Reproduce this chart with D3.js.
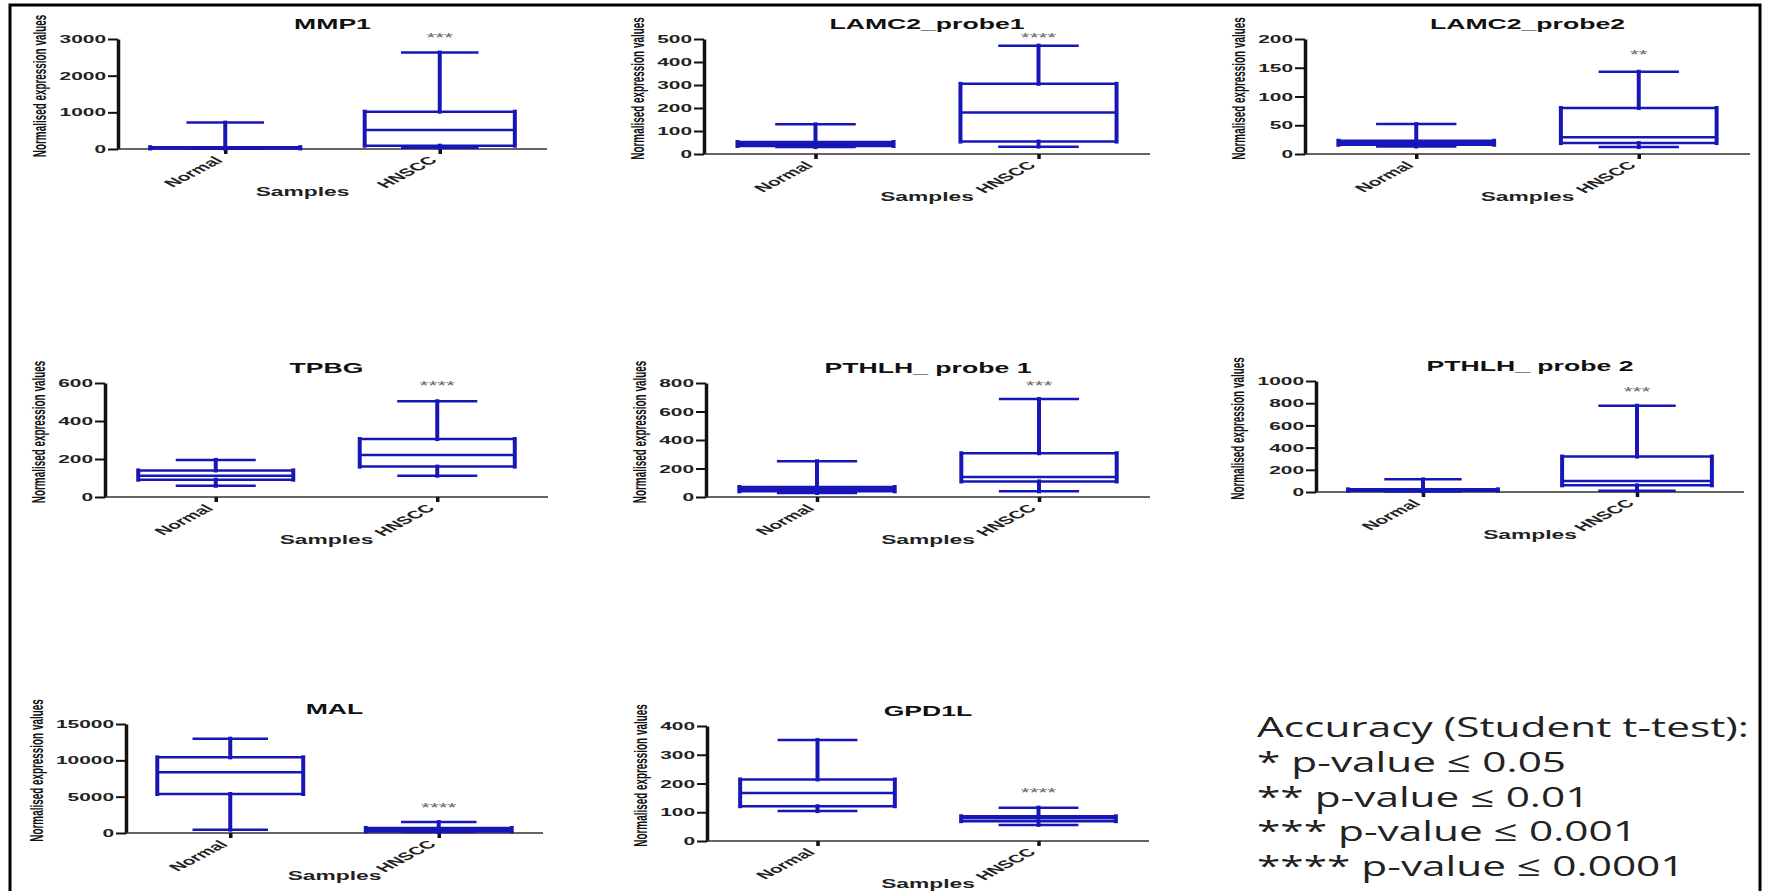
<!DOCTYPE html>
<html>
<head>
<meta charset="utf-8">
<script src="https://cdn.jsdelivr.net/npm/d3@7"></script>
<style>
  html, body { margin: 0; padding: 0; background: #fff; }
  svg { display: block; font-family: "Liberation Sans", Arial, sans-serif; }
</style>
</head>
<body>
<svg id="chart" width="1765" height="891"></svg>
<script>
// panel titles and the two sample groups
const genes = ["MMP1", "LAMC2_probe1", "LAMC2_probe2", "TPBG", "PTHLH_ probe 1", "PTHLH_ probe 2", "MAL", "GPD1L"];
const groups = ["Normal", "HNSCC"];

// y axis extent and tick step per panel
const yMax = [3000, 500, 200, 600, 800, 1000, 15000, 400];
const yStep = [1000, 100, 50, 200, 200, 200, 5000, 100];

// box stats: [min, q1, median, q3, max]
const normalStats = [
  [5, 15, 30, 50, 720],
  [30, 35, 42, 52, 129],
  [13, 16, 19, 23, 52],
  [59, 91, 112, 140, 195],
  [28, 40, 58, 70, 251],
  [5, 12, 18, 24, 114],
  [460, 5370, 8350, 10410, 12980],
  [104, 121, 167, 214, 351],
];
const hnsccStats = [
  [36, 91, 518, 1018, 2630],
  [32, 54, 180, 305, 471],
  [12, 19, 29, 80, 143],
  [112, 160, 221, 305, 504],
  [40, 109, 140, 307, 688],
  [12, 60, 99, 319, 777],
  [130, 220, 450, 690, 1500],
  [56, 69, 79, 86, 116],
];

// significance marks and the value they sit at
const stars = ["***", "****", "**", "****", "***", "***", "****", "****"];
const starLevel = [3110, 519, 178, 598, 798, 928, 3900, 179];

const legendLines = [
  "Accuracy (Student t-test):",
  "* p-value \u2264 0.05",
  "** p-value \u2264 0.01",
  "*** p-value \u2264 0.001",
  "**** p-value \u2264 0.0001",
];

// where each panel's axes sit on the page
const frames = [
  { x0: 118, x1: 547, top: 39, zero: 149, samplesDx: -30 },
  { x0: 704, x1: 1150, top: 39, zero: 154, samplesDx: 0 },
  { x0: 1305, x1: 1750, top: 39, zero: 154, samplesDx: 0 },
  { x0: 105, x1: 548, top: 383, zero: 497, samplesDx: 0 },
  { x0: 706, x1: 1150, top: 383, zero: 497, samplesDx: 0 },
  { x0: 1316, x1: 1744, top: 381, zero: 492, samplesDx: 0 },
  { x0: 126, x1: 543, top: 724, zero: 833, samplesDx: 0 },
  { x0: 707, x1: 1149, top: 726, zero: 841, samplesDx: 0 },
];

const blue = "#1717b8";
const sx = 1.9; // the original figure is stretched sideways

const svg = d3.select("#chart");

svg.append("rect")
  .attr("x", 10).attr("y", 5)
  .attr("width", 1750).attr("height", 900)
  .attr("fill", "none").attr("stroke", "#000").attr("stroke-width", 3);

genes.forEach((gene, i) => {
  const f = frames[i];
  const g = svg.append("g");

  const y = d3.scaleLinear().domain([0, yMax[i]]).range([f.zero, f.top]);
  const x = d3.scalePoint().domain(groups).range([f.x0, f.x1]).padding(0.5);
  const step = x.step();
  const boxW = step * 0.7;
  const capW = step * 0.35;

  // y axis
  const yAxis = g.append("g")
    .attr("transform", `translate(${f.x0},0)`)
    .call(d3.axisLeft(y)
      .tickValues(d3.range(0, yMax[i] + 1, yStep[i]))
      .tickFormat(d3.format("d"))
      .tickSize(10)
      .tickSizeOuter(0)
      .tickPadding(0));
  yAxis.select(".domain").attr("stroke", "#111").attr("stroke-width", 3.5);
  yAxis.selectAll(".tick line").attr("stroke", "#111").attr("stroke-width", 2);
  yAxis.selectAll(".tick text")
    .attr("x", 0).attr("dy", null)
    .attr("dominant-baseline", "central")
    .attr("transform", `translate(-12,0) scale(${sx},1)`)
    .attr("fill", "#222")
    .attr("font-size", 11)
    .attr("font-weight", "bold");

  let labelW = 0;
  yAxis.selectAll(".tick text").each(function () {
    labelW = Math.max(labelW, this.getComputedTextLength() * sx);
  });

  // x axis
  const xAxis = g.append("g")
    .attr("transform", `translate(0,${f.zero})`)
    .call(d3.axisBottom(x).tickSize(5).tickSizeOuter(0));
  xAxis.select(".domain")
    .attr("d", `M${f.x0},0H${f.x1}`)
    .attr("stroke", "#333").attr("stroke-width", 1.6);
  xAxis.selectAll(".tick line").attr("stroke", "#111").attr("stroke-width", 3.5);
  xAxis.selectAll(".tick text")
    .attr("x", 0).attr("y", 0).attr("dy", null)
    .attr("text-anchor", "end")
    .attr("transform", `translate(-2,12) scale(${sx},1) rotate(-45)`)
    .attr("fill", "#222")
    .attr("font-size", 11)
    .attr("font-weight", "bold");

  // axis titles
  g.append("text")
    .attr("transform", `translate(${f.x0 - 12 - labelW - 20},${(f.top + f.zero) / 2 - 8}) scale(${sx},1) rotate(-90)`)
    .attr("text-anchor", "middle")
    .attr("dominant-baseline", "central")
    .attr("font-size", 9.9)
    .attr("font-weight", "bold")
    .attr("fill", "#111")
    .text("Normalised expression values");

  g.append("text")
    .attr("transform", `translate(${(f.x0 + f.x1) / 2 + f.samplesDx},${f.zero + 47}) scale(${sx},1)`)
    .attr("text-anchor", "middle")
    .attr("font-size", 12)
    .attr("font-weight", "bold")
    .attr("fill", "#222")
    .text("Samples");

  g.append("text")
    .attr("transform", `translate(${(f.x0 + f.x1) / 2},${f.top - 10}) scale(${sx},1)`)
    .attr("text-anchor", "middle")
    .attr("font-size", 14)
    .attr("font-weight", "bold")
    .attr("fill", "#111")
    .text(gene);

  // boxes
  const rows = [normalStats[i], hnsccStats[i]].map((s, k) => ({ group: groups[k], s }));
  const box = g.selectAll("g.box").data(rows).enter().append("g")
    .attr("class", "box")
    .attr("stroke", blue)
    .attr("fill", "none")
    .attr("stroke-linecap", "square");

  // whiskers
  box.append("line")
    .attr("x1", (d) => x(d.group)).attr("x2", (d) => x(d.group))
    .attr("y1", (d) => y(d.s[0])).attr("y2", (d) => y(d.s[1]))
    .attr("stroke-width", 4);
  box.append("line")
    .attr("x1", (d) => x(d.group)).attr("x2", (d) => x(d.group))
    .attr("y1", (d) => y(d.s[3])).attr("y2", (d) => y(d.s[4]))
    .attr("stroke-width", 4);
  [0, 4].forEach((k) => {
    box.append("line")
      .attr("x1", (d) => x(d.group) - capW / 2).attr("x2", (d) => x(d.group) + capW / 2)
      .attr("y1", (d) => y(d.s[k])).attr("y2", (d) => y(d.s[k]))
      .attr("stroke-width", 2.5);
  });
  // box sides
  [-1, 1].forEach((side) => {
    box.append("line")
      .attr("x1", (d) => x(d.group) + side * boxW / 2).attr("x2", (d) => x(d.group) + side * boxW / 2)
      .attr("y1", (d) => y(d.s[1])).attr("y2", (d) => y(d.s[3]))
      .attr("stroke-width", 4);
  });
  [1, 2, 3].forEach((k) => {
    box.append("line")
      .attr("x1", (d) => x(d.group) - boxW / 2).attr("x2", (d) => x(d.group) + boxW / 2)
      .attr("y1", (d) => y(d.s[k])).attr("y2", (d) => y(d.s[k]))
      .attr("stroke-width", 2.5);
  });

  // significance stars over HNSCC
  g.append("text")
    .attr("transform", `translate(${x("HNSCC")},${y(starLevel[i]) + 7}) scale(${sx},1)`)
    .attr("text-anchor", "middle")
    .attr("font-size", 12)
    .attr("fill", "#666")
    .text(stars[i]);
});

// legend
const legend = svg.append("g").attr("font-family", "'Open Sans', sans-serif");
const lines = legend.selectAll("text").data(legendLines).enter().append("text")
  .attr("font-size", 28)
  .attr("fill", "#222")
  .text((d) => d);
const natural = lines.nodes()[0].getComputedTextLength();
const lsx = 492 / natural;
lines.attr("transform", (d, k) => `translate(1257,${737 + k * 34.8}) scale(${lsx},1)`);
</script>
</body>
</html>
